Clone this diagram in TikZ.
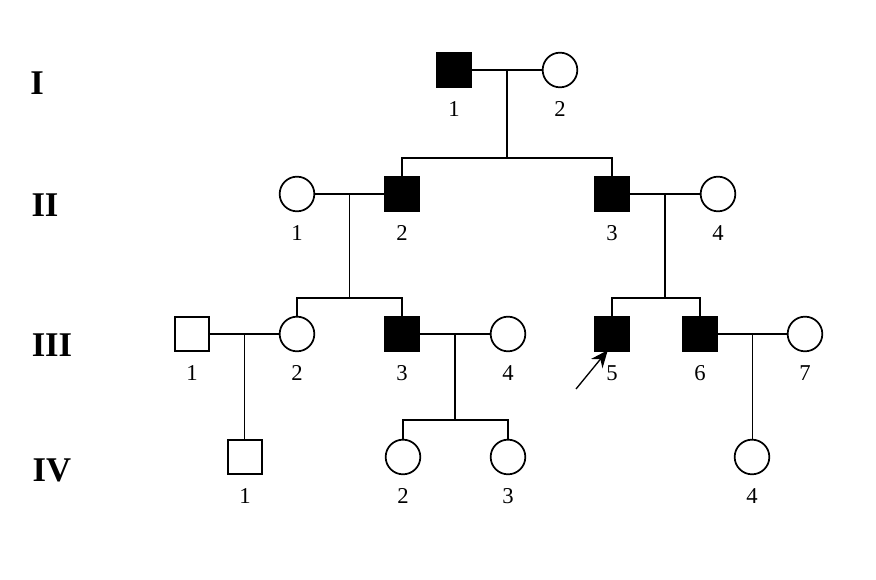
\documentclass[tikz,border=0pt]{standalone}
\usepackage{fontspec}
\setmainfont{Liberation Serif}
\usetikzlibrary{calc,positioning,arrows.meta}
\tikzset{
  male/.style={draw,rectangle,minimum size=26pt,inner sep=0pt,line width=1.3pt},
  maleaff/.style={male,fill=black},
  female/.style={draw,circle,minimum size=26pt,inner sep=0pt,line width=1.3pt},
  num/.style={inner sep=0pt,font=\fontsize{17}{20}\selectfont},
  gen/.style={inner sep=0pt,font=\fontsize{26}{30}\selectfont\bfseries},
  link/.style={line width=1.4pt}
}

\begin{document}
\begin{tikzpicture}[x=.75pt,y=-.75pt]
\useasboundingbox[fill=white] (0,0) rectangle (876,580);
% generation numerals
\node[gen] (gI) at (37,83) {I};
\node[gen] (gII) at (45,205) {II};
\node[gen] (gIII) at (52,345) {III};
\node[gen] (gIV) at (52,470) {IV};
% individuals
\foreach \n/\x/\y/\s in {I1/454/70/maleaff,I2/560/70/female,
  II1/297/194/female,II2/402/194/maleaff,II3/612/194/maleaff,II4/718/194/female,
  III1/192/334/male,III2/297/334/female,III3/402/334/maleaff,III4/508/334/female,
  III5/612/334/maleaff,III6/700/334/maleaff,III7/805/334/female,
  IV1/245/457/male,IV2/403/457/female,IV3/508/457/female,IV4/752/457/female}
  {\node[\s] (\n) at (\x,\y) {};}
\foreach \n/\l in {I1/1,I2/2,II1/1,II2/2,II3/3,II4/4,III1/1,III2/2,III3/3,III4/4,
  III5/5,III6/6,III7/7,IV1/1,IV2/2,IV3/3,IV4/4}
  {\node[num,below=10pt of \n] (\n-l) {\l};}
% I
\draw[link] (I1) -- (I2);
\coordinate (m1) at ($(I1)!.5!(I2)$);
\draw[link] (m1) -- ++(0,88) coordinate (s1);
\draw[link] (II2) |- (s1) -| (II3);
% II
\draw[link] (II1) -- (II2);
\coordinate (m2) at ($(II1)!.5!(II2)$);
\draw[link] (m2) -- ++(0,104) coordinate (s2);
\draw[link] (III2) |- (s2) -| (III3);
\draw[link] (II3) -- (II4);
\coordinate (m3) at ($(II3)!.5!(II4)$);
\draw[link] (m3) -- ++(0,104) coordinate (s3);
\draw[link] (III5) |- (s3) -| (III6);
% III
\draw[link] (III1) -- (III2);
\coordinate (m4) at ($(III1)!.5!(III2)$);
\draw[link] (m4) -- (m4 |- IV1.north);
\draw[link] (III3) -- (III4);
\coordinate (m5) at ($(III3)!.5!(III4)$);
\draw[link] (m5) -- ++(0,86) coordinate (s5);
\draw[link] (IV2) |- (s5) -| (IV3);
\draw[link] (III6) -- (III7);
\coordinate (m6) at ($(III6)!.5!(III7)$);
\draw[link] (m6) -- (m6 |- IV4.north);
% proband
\coordinate (pa) at (576,389);
\coordinate (pt) at ($(III5.south west)+(14,-2)$);
\draw[line width=1pt,-{Stealth[length=13pt,width=11pt]}] (pa) -- (pt);
\end{tikzpicture}
\end{document}
